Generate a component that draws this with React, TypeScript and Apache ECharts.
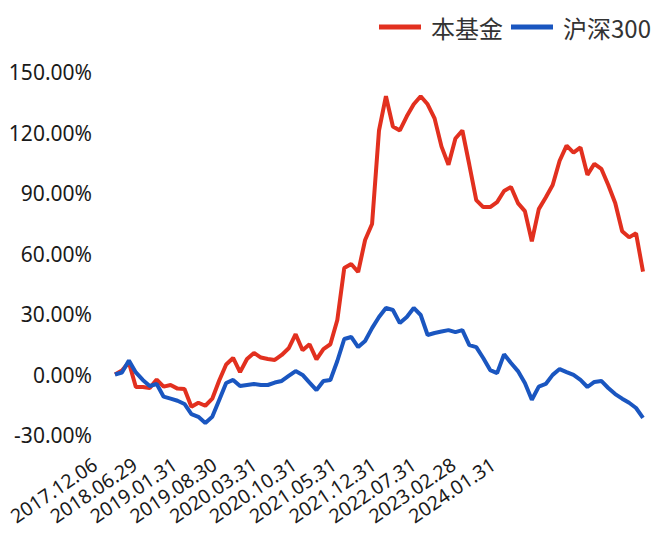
import React, { useEffect, useRef } from "react";
import * as echarts from "echarts";

const tickLabels = [
  "2017.12.06", "2018.06.29", "2019.01.31", "2019.08.30", "2020.03.31", "2020.10.31",
  "2021.05.31", "2021.12.31", "2022.07.31", "2023.02.28", "2024.01.31",
];

const fundValues = [
  0, 2, 6, -6.2, -6.2, -6.7, -2.5, -6, -5.2, -7, -7.2, -16, -14, -15.5, -12, -3, 5, 8.2, 1.2, 7.7,
  10.7, 8.4, 7.7, 7.2, 9.7, 13, 20, 12, 15, 7.5, 12.6, 15, 27, 52.8, 54.8, 50.8, 66.7, 74.6, 121, 138,
  123, 121, 128, 134, 138, 134, 127, 113, 104, 117, 121, 104, 86.5, 83, 83, 85.5, 91, 93, 85, 81,
  66, 82, 87.8, 94, 106, 113.5, 110, 112.6, 99, 104.5, 102, 94, 85, 71, 68, 70, 51,
];

const hs300Values = [
  0, 1, 7, 1, -2.7, -5.7, -4.7, -11, -12, -13, -14.6, -19.6, -21, -24, -21, -12.6, -4.2, -2.7, -5.7, -5.2,
  -4.7, -5.2, -5.2, -4, -3.2, -0.7, 1.7, -0.2, -4, -7.7, -3.2, -2.7, 6.7, 17.6, 18.6, 13.6, 16.6, 23, 28.5, 33,
  32, 25.5, 28.5, 33, 29.5, 19.6, 20.6, 21.3, 22, 21, 22, 14.6, 13.6, 8.2, 2.2, 0.7, 10, 5.7, 1.7, -4.2,
  -12.5, -6, -4.7, -0.2, 2.7, 1.2, -0.2, -2.7, -6.2, -3.7, -3.2, -6.7, -9.7, -12, -14, -16.6, -21.5,
];

const pointDates = fundValues.map((_, i) => {
  const d = new Date(2017, 12 + i, 0);
  return `${d.getFullYear()}.${String(d.getMonth() + 1).padStart(2, "0")}.${String(d.getDate()).padStart(2, "0")}`;
});

export default function App() {
  const ref = useRef<HTMLDivElement>(null);
  useEffect(() => {
    if (!ref.current) return;
    const chart = echarts.init(ref.current, null, { renderer: "svg" });
    chart.setOption({
      animation: false,
      backgroundColor: "#ffffff",
      legend: {
        data: ["本基金", "沪深300"],
        left: 374,
        top: 10,
        width: 400,
        icon: "rect",
        itemWidth: 42,
        itemHeight: 5,
        itemGap: 8,
        textStyle: {
          fontSize: 24,
          fontFamily: "Noto Sans CJK SC",
          color: "#333333",
          padding: [0, 0, 0, 5],
        },
      },
      grid: [
        { left: 115, right: 13, top: 72, bottom: 103 },
        { left: 75, width: 438, top: 400, height: 52 },
      ],
      xAxis: [
        {
          type: "category",
          gridIndex: 0,
          data: pointDates,
          boundaryGap: false,
          show: false,
        },
        {
          type: "category",
          gridIndex: 1,
          data: tickLabels,
          boundaryGap: true,
          axisLine: { show: false },
          axisTick: { show: false },
          axisLabel: {
            rotate: 34,
            margin: 10,
            interval: 0,
            fontSize: 19.5,
            fontFamily: "Noto Sans",
            color: "#1a1a1a",
          },
        },
      ],
      yAxis: [
        {
          type: "value",
          gridIndex: 0,
          min: -30,
          max: 150,
          interval: 30,
          axisLine: { show: false },
          axisTick: { show: false },
          splitLine: { show: false },
          axisLabel: {
            margin: 23,
            fontSize: 21,
            fontFamily: "Noto Sans",
            color: "#1a1a1a",
            formatter: (v: number) => v.toFixed(2) + "%",
          },
        },
        { type: "value", gridIndex: 1, show: false },
      ],
      series: [
        {
          name: "本基金",
          type: "line",
          xAxisIndex: 0,
          yAxisIndex: 0,
          data: fundValues,
          symbol: "none",
          color: "#E2301F",
          lineStyle: { width: 4, color: "#E2301F" },
        },
        {
          name: "沪深300",
          type: "line",
          xAxisIndex: 0,
          yAxisIndex: 0,
          data: hs300Values,
          symbol: "none",
          color: "#1A56C0",
          lineStyle: { width: 4, color: "#1A56C0" },
        },
      ],
    });
    return () => chart.dispose();
  }, []);
  return (
    <div
      ref={ref}
      style={{ position: "fixed", left: 0, top: 0, width: 656, height: 538 }}
    />
  );
}
